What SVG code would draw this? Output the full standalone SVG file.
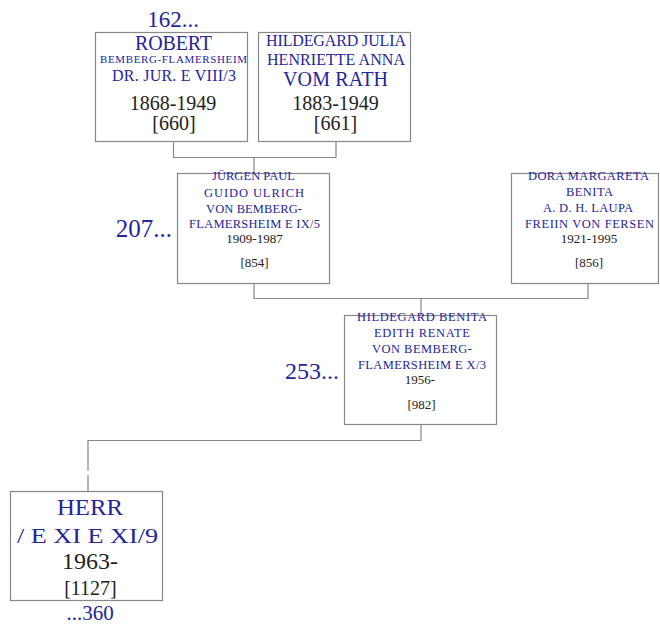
<svg xmlns="http://www.w3.org/2000/svg" width="660" height="626" viewBox="0 0 660 626">
<style>
text{font-family:"Liberation Serif","DejaVu Serif",serif;text-anchor:middle}
.n{fill:#25259a}
.d{fill:#222}
.box{fill:#fff;stroke:#888;stroke-width:1.2}
.con{fill:none;stroke:#888;stroke-width:1.2}
</style>
<rect width="660" height="626" fill="#fff"/>
<g id="connectors">
<path class="con" d="M173.5 141.5V157.5H336V141.5M254 157.5V173.5"/>
<path class="con" d="M254 283.5V298.5H588V283.5M421 298.5V315.5"/>
<path class="con" d="M421 424.5V440.5H88V471M88 475V491"/>
</g>
<g id="n660">
<text class="n" x="173" y="27" font-size="23">162...</text>
<rect class="box" x="95.5" y="32.5" width="152" height="109"/>
<text class="n" x="173.5" y="50" font-size="20" textLength="77">ROBERT</text>
<text class="n" x="173.5" y="63" font-size="11" textLength="147">BEMBERG-FLAMERSHEIM</text>
<text class="n" x="174" y="81" font-size="16" textLength="124">DR. JUR. E VIII/3</text>
<text class="d" x="173" y="110" font-size="20">1868-1949</text>
<text class="d" x="174" y="130" font-size="20">[660]</text>
</g>
<g id="n661">
<rect class="box" x="258.5" y="32.5" width="152" height="109"/>
<text class="n" x="336" y="46" font-size="16" textLength="140">HILDEGARD JULIA</text>
<text class="n" x="336" y="65" font-size="16" textLength="138">HENRIETTE ANNA</text>
<text class="n" x="335.5" y="86" font-size="20" textLength="105">VOM RATH</text>
<text class="d" x="335.5" y="110" font-size="20">1883-1949</text>
<text class="d" x="335.5" y="130" font-size="20">[661]</text>
</g>
<g id="n854">
<text class="n" x="172" y="237" font-size="25" style="text-anchor:end">207...</text>
<rect class="box" x="177.5" y="173.5" width="152" height="110"/>
<text class="n" x="253.5" y="180" font-size="12.5" textLength="83">JÜRGEN PAUL</text>
<text class="n" x="254" y="197" font-size="12.5" textLength="100">GUIDO ULRICH</text>
<text class="n" x="254" y="213" font-size="12.5" textLength="96">VON BEMBERG-</text>
<text class="n" x="254.5" y="228" font-size="12.5" textLength="131">FLAMERSHEIM E IX/5</text>
<text class="d" x="254.5" y="243" font-size="13">1909-1987</text>
<text class="d" x="254.5" y="267" font-size="13">[854]</text>
</g>
<g id="n856">
<rect class="box" x="511.5" y="173.5" width="147" height="110"/>
<text class="n" x="588.5" y="180" font-size="12.5" textLength="121">DORA MARGARETA</text>
<text class="n" x="589.5" y="196" font-size="12.5" textLength="47">BENITA</text>
<text class="n" x="588" y="212" font-size="12.5" textLength="90">A. D. H. LAUPA</text>
<text class="n" x="589.5" y="228" font-size="12.5" textLength="129">FREIIN VON FERSEN</text>
<text class="d" x="589" y="243" font-size="13">1921-1995</text>
<text class="d" x="589" y="267" font-size="13">[856]</text>
</g>
<g id="n982">
<text class="n" x="339" y="379" font-size="24" style="text-anchor:end">253...</text>
<rect class="box" x="344.5" y="315.5" width="152" height="109"/>
<text class="n" x="422" y="321" font-size="12.5" textLength="130">HILDEGARD BENITA</text>
<text class="n" x="422" y="337" font-size="12.5" textLength="96">EDITH RENATE</text>
<text class="n" x="422" y="353" font-size="12.5" textLength="100">VON BEMBERG-</text>
<text class="n" x="422" y="369" font-size="12.5" textLength="128">FLAMERSHEIM E X/3</text>
<text class="d" x="420" y="384" font-size="13">1956-</text>
<text class="d" x="421.5" y="409" font-size="13">[982]</text>
</g>
<g id="n1127">
<rect class="box" x="10.5" y="491.5" width="152" height="109"/>
<text class="n" x="90" y="515" font-size="23" textLength="66" lengthAdjust="spacingAndGlyphs">HERR</text>
<text class="n" x="87.5" y="543" font-size="22" textLength="141" lengthAdjust="spacingAndGlyphs">/ E XI E XI/9</text>
<text class="d" x="90" y="569" font-size="24">1963-</text>
<text class="d" x="90.5" y="595" font-size="20">[1127]</text>
<text class="n" x="90" y="620" font-size="21">...360</text>
</g>
</svg>
